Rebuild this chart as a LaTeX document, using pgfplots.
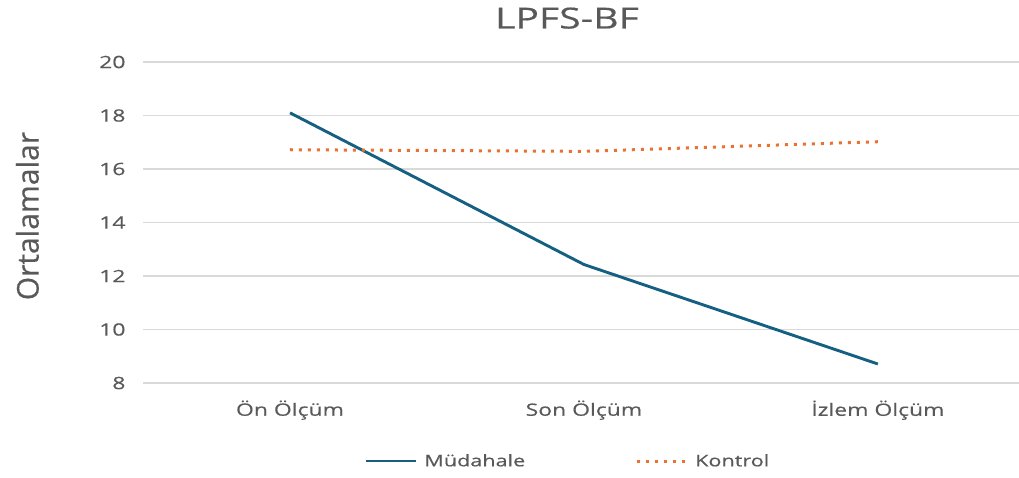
\documentclass[border=0pt]{standalone}
\usepackage{pgfplots}
\pgfplotsset{compat=1.18}
\usepackage{fontspec}
\setmainfont{Open Sans}[FakeStretch=1.35, FakeBold=0.4]
\newfontfamily\ylabfont{Open Sans}[FakeBold=0.4]
\definecolor{txt}{HTML}{595959}
\definecolor{gridc}{HTML}{D9D9D9}
\definecolor{mblue}{HTML}{156082}
\definecolor{korange}{HTML}{E97132}
\begin{document}
\begin{tikzpicture}
\begin{axis}[
  name=ax,
  scale only axis,
  width=876pt, height=321pt,
  xmin=-0.5, xmax=2.48,
  ymin=8, ymax=20,
  ytick={8,10,...,20},
  xtick={0,1,2},
  xticklabels={Ön Ölçüm, Son Ölçüm, İzlem Ölçüm},
  axis line style={draw=none},
  major tick length=0pt,
  xmajorgrids=false,
  ymajorgrids=true, grid style={draw=gridc, line width=1.2pt},
  /pgf/number format/assume math mode=true,
  tick label style={font=\fontsize{17}{20}\selectfont, text=txt},
  xticklabel style={font=\fontsize{17}{20}\selectfont, yshift=-14pt},
  yticklabel style={xshift=-14pt},
  title={LPFS-BF},
  title style={font=\fontsize{29}{34}\selectfont, text=txt, at={(axis description cs:0.484,1.118)}, anchor=center},
  ylabel={Ortalamalar},
  ylabel style={font=\ylabfont\fontsize{30}{34}\selectfont, text=txt, at={(axis description cs:-0.132,0.52)}, anchor=center, rotate=0},
  legend columns=2,
  legend style={draw=none, font=\fontsize{16}{19}\selectfont, text=txt,
    at={(axis description cs:0.485,-0.243)}, anchor=center,
    /tikz/every odd column/.append style={column sep=5pt},
    /tikz/every even column/.append style={column sep=108pt}},
  legend image code/.code={\draw[#1] (0pt,0pt) -- (50pt,0pt);},
  clip=false,
]
\addplot[mblue, line width=2.9pt] coordinates {(0,18.1) (1,12.43) (2,8.71)};
\addlegendentry{Müdahale}
\addplot[korange, line width=3pt, dash pattern=on 3pt off 6pt] coordinates {(0,16.72) (1,16.66) (2,17.02)};
\addlegendentry{Kontrol}
\end{axis}
\pgfresetboundingbox
\path[use as bounding box] ([xshift=-143pt,yshift=-94pt]ax.south west) rectangle ([yshift=62pt]ax.north east);
\end{tikzpicture}
\end{document}
